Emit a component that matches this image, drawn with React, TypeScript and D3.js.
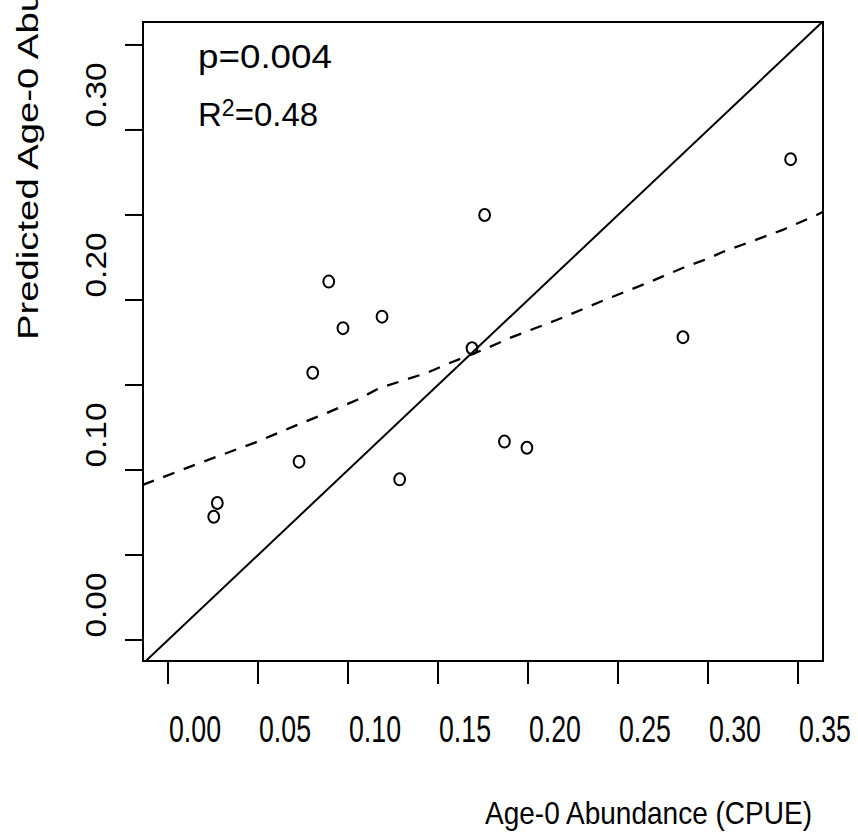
import React from "react";
import * as d3 from "d3";

// Observed age-0 abundance (CPUE) vs predicted age-0 abundance
const observed = [0.1759, 0.0893, 0.1189, 0.0972, 0.1689, 0.0804, 0.1869, 0.1994, 0.0728, 0.1287, 0.0274, 0.0254, 0.3459, 0.2861];
const predicted = [0.25, 0.2108, 0.1902, 0.1834, 0.1716, 0.1572, 0.1167, 0.1131, 0.1049, 0.0945, 0.0806, 0.0725, 0.2828, 0.1781];

// Dashed fitted curve
const fitX = [-0.0141, 0.0176, 0.0493, 0.0732, 0.0882, 0.1049, 0.1176, 0.1437, 0.1565, 0.1749, 0.1898, 0.2159, 0.2398, 0.2676, 0.2859, 0.3009, 0.3081, 0.3415, 0.3604, 0.3637];
const fitY = [0.0912, 0.1041, 0.1165, 0.1271, 0.1335, 0.1412, 0.1482, 0.1571, 0.1629, 0.1706, 0.1776, 0.1882, 0.1988, 0.2106, 0.2188, 0.2247, 0.2282, 0.2412, 0.25, 0.2518];

const xTicks = [0, 0.05, 0.1, 0.15, 0.2, 0.25, 0.3, 0.35];
const xTickLabels = ["0.00", "0.05", "0.10", "0.15", "0.20", "0.25", "0.30", "0.35"];
const yTicks = [0, 0.05, 0.1, 0.15, 0.2, 0.25, 0.3, 0.35];
const yLabelValues = [0, 0.1, 0.2, 0.3];
const yTickLabels = ["0.00", "0.10", "0.20", "0.30"];

const xTitle = "Age-0 Abundance (CPUE)";
const yTitle = "Predicted Age-0 Abundance (CPUE)";
const pText = "p=0.004";

const W = 858;
const H = 837;
const L = 143, R = 823, T = 22, B = 661;
const FONT = "'Liberation Sans', Arial, Helvetica, sans-serif";

export default function App() {
  const x = d3.scaleLinear().domain([-0.0139, 0.3639]).range([L, R]);
  const y = d3.scaleLinear().domain([-0.01235, 0.3635]).range([B, T]);

  const fitData = fitX.map((v, i) => [v, fitY[i]] as [number, number]);
  const fitLine = d3.line<[number, number]>().x((d) => x(d[0])).y((d) => y(d[1]))(fitData) || "";
  const idData: [number, number][] = [[-0.02, -0.02], [0.37, 0.37]];
  const idLine = d3.line<[number, number]>().x((d) => x(d[0])).y((d) => y(d[1]))(idData) || "";

  return (
    <svg width={W} height={H} style={{ position: "absolute", left: 0, top: 0, background: "#fff" }} fontFamily={FONT}>
      <defs>
        <clipPath id="plotclip">
          <rect x={L} y={T} width={R - L} height={B - T} />
        </clipPath>
      </defs>
      <rect x={0} y={0} width={W} height={H} fill="#fff" />

      {/* identity line and fitted curve */}
      <g clipPath="url(#plotclip)">
        <path d={idLine} fill="none" stroke="#000" strokeWidth={2} />
        <path d={fitLine} fill="none" stroke="#000" strokeWidth={2.3} strokeDasharray="12,10" />
      </g>

      {/* points */}
      {observed.map((v, i) => (
        <ellipse key={i} cx={x(v)} cy={y(predicted[i])} rx={5.4} ry={6} fill="none" stroke="#000" strokeWidth={2} />
      ))}

      {/* box */}
      <rect x={L} y={T} width={R - L} height={B - T} fill="none" stroke="#000" strokeWidth={2} />

      {/* x axis ticks */}
      {xTicks.map((t, i) => (
        <g key={"xt" + i}>
          <line x1={x(t)} x2={x(t)} y1={B} y2={B + 23} stroke="#000" strokeWidth={2} />
          <text x={x(t) + 27} y={742} fontSize={36} textAnchor="middle" textLength={52} lengthAdjust="spacingAndGlyphs" fill="#000">
            {xTickLabels[i]}
          </text>
        </g>
      ))}

      {/* y axis ticks */}
      {yTicks.map((t, i) => (
        <line key={"yt" + i} x1={L - 18} x2={L} y1={y(t)} y2={y(t)} stroke="#000" strokeWidth={2} />
      ))}
      {yLabelValues.map((t, i) => (
        <text
          key={"yl" + i}
          transform={`translate(106,${y(t) - 35}) rotate(-90)`}
          fontSize={30}
          textAnchor="middle"
          textLength={65}
          lengthAdjust="spacingAndGlyphs"
          fill="#000"
        >
          {yTickLabels[i]}
        </text>
      ))}

      {/* titles */}
      <text x={485} y={824} fontSize={32} textLength={327} lengthAdjust="spacingAndGlyphs" fill="#000">
        {xTitle}
      </text>
      <text transform={`translate(38,340) rotate(-90)`} fontSize={30} textLength={617} lengthAdjust="spacingAndGlyphs" fill="#000">
        {yTitle}
      </text>

      {/* annotations */}
      <text x={198} y={68} fontSize={33} textLength={134} lengthAdjust="spacingAndGlyphs" fill="#000">
        {pText}
      </text>
      <text x={198} y={126} fontSize={33} fill="#000">
        <tspan>R</tspan>
        <tspan fontSize={23} dy={-10}>2</tspan>
        <tspan dy={10}>=0.48</tspan>
      </text>
    </svg>
  );
}
